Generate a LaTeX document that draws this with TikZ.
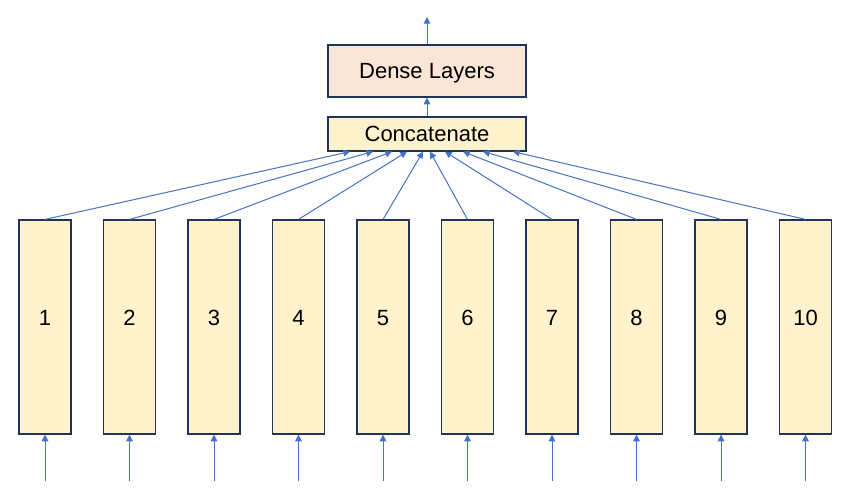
\documentclass[tikz,border=0pt]{standalone}
\usepackage{fontspec}
\setmainfont{Liberation Sans}
\usetikzlibrary{arrows.meta}
\definecolor{layerfill}{RGB}{255,242,204}
\definecolor{densefill}{RGB}{251,229,214}
\definecolor{edgenavy}{RGB}{31,52,88}
\definecolor{arrowblue}{RGB}{68,114,196}
\tikzset{
  block/.style={draw=edgenavy, line width=0.9pt, inner sep=0pt, text depth=0pt,
    font=\fontsize{16.5}{20}\selectfont},
  layer/.style={block, fill=layerfill, minimum width=39pt, minimum height=160.5pt, text depth=13.5pt},
  concatbox/.style={block, fill=layerfill, minimum width=148.5pt, minimum height=25.5pt},
  densebox/.style={block, fill=densefill, minimum width=148.5pt, minimum height=39pt},
  feed/.style={draw=arrowblue, line width=0.75pt, -{Triangle[length=5pt,width=5pt]}}
}

\begin{document}
\begin{tikzpicture}[x=0.75pt,y=0.75pt]
        \useasboundingbox (0,0) rectangle (853,-492);
        \node[densebox] (dense) at (427,-71) {Dense Layers};
        \node[concatbox] (concat) at (427,-134) {Concatenate};
        \coordinate (out) at (427,-17);
        \draw[feed] (concat) -- (dense);
        \draw[feed] (dense) -- (out);

        \foreach \i/\dx in {1/-77,2/-54,3/-35,4/-20,5/-4,6/3,7/18,8/36,9/56,10/86} {
            \node[layer] (layer\i) at ({45+84.5*(\i-1)},-327) {\i};
            \coordinate (in\i) at ({45+84.5*(\i-1)},-481);
            \draw[feed] (in\i) -- (layer\i);
            \draw[feed] (layer\i.north) -- ([xshift=\dx*0.75pt]concat.south);
        }
    \end{tikzpicture}
\end{document}
